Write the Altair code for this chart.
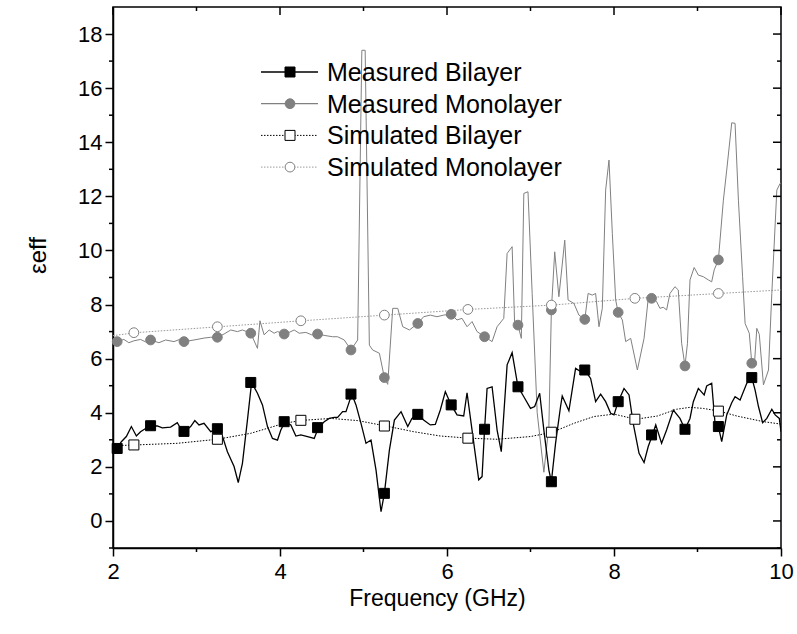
import altair as alt
import pandas as pd

# ---------------- data ----------------
mb_x = [2.00, 2.05, 2.10, 2.16, 2.22, 2.28, 2.33, 2.39, 2.45, 2.53, 2.59, 2.69, 2.77, 2.82, 2.86, 2.93,
        2.98, 3.03, 3.09, 3.17, 3.25, 3.31, 3.37, 3.45, 3.50, 3.55, 3.61, 3.66, 3.73, 3.79, 3.85, 3.91,
        3.97, 4.01, 4.06, 4.13, 4.19, 4.25, 4.33, 4.41, 4.46, 4.53, 4.59, 4.65, 4.69, 4.75, 4.79, 4.86,
        4.91, 4.97, 5.03, 5.09, 5.15, 5.21, 5.25, 5.31, 5.37, 5.45, 5.53, 5.58, 5.65, 5.72, 5.80, 5.86,
        5.92, 5.98, 6.05, 6.12, 6.20, 6.24, 6.30, 6.38, 6.42, 6.45, 6.48, 6.54, 6.60, 6.65, 6.72, 6.78,
        6.85, 6.92, 7.00, 7.05, 7.11, 7.16, 7.22, 7.25, 7.30, 7.36, 7.38, 7.46, 7.54, 7.60, 7.65, 7.72,
        7.78, 7.84, 7.90, 7.96, 8.00, 8.05, 8.12, 8.18, 8.23, 8.30, 8.36, 8.41, 8.46, 8.50, 8.57, 8.63,
        8.71, 8.79, 8.85, 8.91, 8.95, 9.01, 9.08, 9.11, 9.17, 9.21, 9.25, 9.29, 9.35, 9.41, 9.45, 9.51,
        9.59, 9.65, 9.69, 9.73, 9.78, 9.83, 9.89, 9.93, 9.98, 10.00]
mb_y = [2.55, 2.68, 2.93, 3.12, 3.49, 3.14, 3.30, 3.42, 3.52, 3.51, 3.44, 3.47, 3.63, 3.36, 3.31, 3.49,
        3.71, 3.55, 3.61, 3.30, 3.41, 3.14, 2.56, 2.01, 1.42, 2.13, 3.73, 5.12, 4.72, 4.29, 3.49, 3.05,
        2.99, 3.36, 3.67, 3.55, 3.14, 3.18, 3.12, 3.05, 3.45, 3.67, 3.79, 3.83, 3.83, 4.04, 4.04, 4.69,
        4.29, 3.61, 2.87, 2.99, 1.88, 0.34, 1.02, 2.62, 3.73, 4.04, 3.49, 3.79, 3.94, 3.73, 3.55, 3.57,
        4.10, 4.78, 4.29, 3.92, 3.88, 4.74, 3.36, 1.52, 1.64, 3.39, 4.90, 4.96, 3.36, 2.56, 5.77, 6.22,
        4.96, 4.59, 4.16, 4.23, 4.72, 3.36, 1.88, 1.45, 2.87, 4.23, 4.62, 4.07, 5.64, 5.52, 5.58, 5.27,
        4.41, 4.69, 4.41, 3.98, 3.92, 4.41, 4.90, 4.66, 3.61, 2.50, 2.16, 2.75, 3.18, 3.55, 2.87, 3.36,
        4.10, 3.79, 3.39, 3.79, 4.41, 4.90, 4.66, 4.99, 5.09, 3.61, 3.49, 2.93, 3.92, 4.37, 4.59, 4.47,
        5.09, 5.30, 4.84, 4.23, 3.63, 3.79, 4.13, 3.92, 3.79, 3.30]

mm_x = [2.00, 2.05, 2.13, 2.19, 2.25, 2.33, 2.39, 2.45, 2.55, 2.63, 2.73, 2.79, 2.85, 2.97, 3.09, 3.17,
        3.25, 3.33, 3.41, 3.49, 3.55, 3.65, 3.73, 3.76, 3.81, 3.87, 3.93, 3.97, 4.05, 4.11, 4.17, 4.23,
        4.31, 4.38, 4.45, 4.55, 4.63, 4.69, 4.77, 4.85, 4.93, 4.98, 5.02, 5.07, 5.11, 5.19, 5.25, 5.29,
        5.35, 5.41, 5.47, 5.55, 5.65, 5.72, 5.80, 5.88, 5.96, 6.05, 6.12, 6.18, 6.24, 6.30, 6.36, 6.45,
        6.54, 6.60, 6.68, 6.72, 6.78, 6.81, 6.85, 6.89, 6.92, 6.97, 7.02, 7.08, 7.16, 7.22, 7.25, 7.29,
        7.34, 7.41, 7.45, 7.52, 7.58, 7.65, 7.69, 7.74, 7.78, 7.82, 7.86, 7.90, 7.94, 7.98, 8.02, 8.05,
        8.10, 8.14, 8.20, 8.28, 8.36, 8.41, 8.46, 8.51, 8.55, 8.59, 8.63, 8.67, 8.73, 8.77, 8.81, 8.85,
        8.88, 8.91, 8.96, 9.01, 9.07, 9.13, 9.17, 9.20, 9.25, 9.31, 9.35, 9.41, 9.45, 9.49, 9.54, 9.57,
        9.62, 9.65, 9.68, 9.71, 9.74, 9.79, 9.85, 9.89, 9.95, 9.99, 10.00]
mm_y = [6.55, 6.63, 6.71, 6.59, 6.66, 6.71, 6.62, 6.69, 6.59, 6.69, 6.63, 6.70, 6.63, 6.69, 6.76, 6.79,
        6.79, 6.91, 7.06, 7.00, 7.06, 6.94, 6.38, 7.40, 6.88, 7.06, 6.94, 7.00, 6.91, 6.97, 7.06, 6.94,
        6.97, 6.88, 6.91, 6.85, 6.81, 6.81, 6.69, 6.32, 6.69, 17.40, 17.40, 6.50, 6.32, 6.20, 5.30, 5.05,
        7.86, 7.86, 7.18, 7.06, 7.30, 7.55, 7.61, 7.55, 7.61, 7.64, 7.43, 7.49, 7.18, 7.37, 7.00, 6.81,
        6.63, 7.18, 7.49, 9.89, 10.14, 7.30, 7.24, 6.75, 12.11, 12.17, 8.41, 4.00, 1.80, 3.50, 7.80, 9.95,
        8.29, 10.38, 8.17, 8.04, 7.61, 7.45, 8.41, 8.35, 8.41, 7.18, 7.86, 12.23, 13.34, 10.63, 8.17, 7.71,
        7.43, 6.63, 6.75, 5.58, 6.75, 8.23, 8.23, 8.11, 7.86, 7.90, 7.80, 8.41, 8.66, 8.54, 6.57, 5.73,
        6.57, 8.91, 9.37, 9.09, 9.03, 8.91, 8.84, 9.28, 9.65, 11.86, 12.97, 14.72, 14.70, 11.86, 9.03, 7.30,
        6.94, 5.83, 5.70, 7.12, 6.90, 5.03, 5.58, 8.41, 12.23, 12.48, 12.48]

sb_x = [2.00, 2.27, 2.77, 3.25, 3.65, 4.05, 4.27, 4.61, 4.93, 5.27, 5.60, 5.92, 6.26, 6.60, 7.00,
        7.26, 7.52, 7.76, 8.00, 8.26, 8.52, 8.75, 8.91, 9.07, 9.26, 9.47, 9.79, 10.00]
sb_y = [2.78, 2.81, 2.87, 3.02, 3.24, 3.61, 3.72, 3.79, 3.71, 3.51, 3.30, 3.14, 3.06, 3.02, 3.12,
        3.28, 3.61, 3.86, 3.95, 3.76, 3.88, 4.13, 4.20, 4.16, 4.06, 3.88, 3.67, 3.58]

sm_x = [2.00, 2.27, 3.27, 4.26, 5.26, 6.26, 7.26, 8.26, 9.26, 10.00]
sm_y = [6.85, 6.96, 7.18, 7.40, 7.61, 7.82, 7.98, 8.23, 8.41, 8.54]

meas_mk_x = [2.05, 2.45, 2.85, 3.25, 3.65, 4.05, 4.45, 4.85, 5.25, 5.65,
             6.05, 6.45, 6.85, 7.25, 7.65, 8.05, 8.45, 8.85, 9.25, 9.65]
mb_mk_y = [2.68, 3.52, 3.31, 3.41, 5.12, 3.67, 3.45, 4.69, 1.02, 3.94,
           4.29, 3.39, 4.96, 1.45, 5.58, 4.41, 3.18, 3.39, 3.49, 5.30]
mm_mk_y = [6.63, 6.69, 6.63, 6.79, 6.94, 6.91, 6.91, 6.32, 5.30, 7.30,
           7.64, 6.81, 7.24, 7.80, 7.45, 7.71, 8.23, 5.73, 9.65, 5.83]

sim_mk_x = [2.25, 3.25, 4.25, 5.25, 6.25, 7.25, 8.25, 9.25]
sb_mk_y = [2.81, 3.02, 3.72, 3.51, 3.06, 3.28, 3.76, 4.06]
sm_mk_y = [6.96, 7.18, 7.40, 7.61, 7.82, 7.98, 8.23, 8.41]

legend_labels = ["Measured Bilayer", "Measured Monolayer", "Simulated Bilayer", "Simulated Monolayer"]
x_major = [2, 4, 6, 8, 10]
x_minor = [3, 5, 7, 9]
y_major = list(range(0, 19, 2))
y_minor = list(range(-1, 19, 2))
x_title = "Frequency (GHz)"
y_title = "\u03b5eff"

# ---------------- styling ----------------
FONT = "Liberation Sans"
FS_TICK = 22
FS_TITLE = 23
FS_LEG = 25
W, H = 668, 541
GRAY = "#808080"
GRAY2 = "#999999"
MAJ, MIN = 8, 4

xs = alt.Scale(domain=[2, 10], nice=False, zero=False)
ys = alt.Scale(domain=[-1, 19], nice=False, zero=False)

x_axis = alt.Axis(values=x_major, tickSize=MAJ, grid=False,
                  labelFont=FONT, labelFontSize=FS_TICK, labelColor="black", labelPadding=5,
                  labelOverlap=False, labelFlush=False,
                  tickColor="black", tickWidth=1.5, domainColor="black", domainWidth=1.5,
                  title=x_title, titleFont=FONT, titleFontSize=FS_TITLE, titleFontWeight="normal",
                  titleColor="black", titleX=324, titleY=50, titleBaseline="middle")
y_axis = alt.Axis(values=y_major, tickSize=MAJ, grid=False,
                  labelFont=FONT, labelFontSize=FS_TICK, labelColor="black", labelPadding=3,
                  labelOverlap=False, labelFlush=False,
                  tickColor="black", tickWidth=1.5, domainColor="black", domainWidth=1.5,
                  title=y_title, titleFont=FONT, titleFontSize=24, titleFontWeight="normal",
                  titleColor="black", titleX=-75, titleY=248, titleAngle=-90,
                  titleBaseline="middle", titleAlign="center")

X = lambda f: alt.X(f, type="quantitative", scale=xs, axis=x_axis)
Y = lambda f: alt.Y(f, type="quantitative", scale=ys, axis=y_axis)


def series_line(xv, yv, color, width, dash=None):
    df = pd.DataFrame({"x": xv, "y": yv})
    kw = dict(color=color, strokeWidth=width, clip=True)
    if dash:
        kw["strokeDash"] = dash
    return alt.Chart(df).mark_line(**kw).encode(x=X("x"), y=Y("y"))


def series_points(xv, yv, shape, fill, stroke, size):
    df = pd.DataFrame({"x": xv, "y": yv})
    return alt.Chart(df).mark_point(shape=shape, filled=True, fill=fill, stroke=stroke,
                                    strokeWidth=1, size=size, opacity=1).encode(x=X("x"), y=Y("y"))


layers = [
    series_line(sm_x, sm_y, GRAY2, 1, [1.5, 1.5]),
    series_line(sb_x, sb_y, "black", 1, [1.5, 1.5]),
    series_line(mm_x, mm_y, GRAY, 1),
    series_line(mb_x, mb_y, "black", 1.3),
    series_points(meas_mk_x, mm_mk_y, "circle", GRAY, GRAY, 95),
    series_points(meas_mk_x, mb_mk_y, "square", "black", "black", 100),
    series_points(sim_mk_x, sm_mk_y, "circle", "white", GRAY, 95),
    series_points(sim_mk_x, sb_mk_y, "square", "white", "black", 100),
]

# minor outward ticks (bottom, left) and mirrored inward ticks (top, right)
rule = dict(color="black", strokeWidth=1.5)
layers.append(alt.Chart(pd.DataFrame({"v": x_minor})).mark_rule(**rule).encode(
    x=X("v"), y=alt.value(H), y2=alt.value(H + MIN)))
layers.append(alt.Chart(pd.DataFrame({"v": y_minor})).mark_rule(**rule).encode(
    y=Y("v"), x=alt.value(0), x2=alt.value(-MIN)))
for vals, ln in ((x_major, MAJ), (x_minor, MIN)):
    layers.append(alt.Chart(pd.DataFrame({"v": vals})).mark_rule(**rule).encode(
        x=X("v"), y=alt.value(0), y2=alt.value(ln)))
for vals, ln in ((y_major, MAJ), (y_minor, MIN)):
    layers.append(alt.Chart(pd.DataFrame({"v": vals})).mark_rule(**rule).encode(
        y=Y("v"), x=alt.value(W), x2=alt.value(W - ln)))

# legend
leg_styles = [
    dict(color="black", width=1.3, dash=None, shape="square", fill="black", stroke="black", size=100),
    dict(color=GRAY, width=1.3, dash=None, shape="circle", fill=GRAY, stroke=GRAY, size=95),
    dict(color="black", width=1, dash=[1.5, 1.5], shape="square", fill="white", stroke="black", size=100),
    dict(color=GRAY2, width=1, dash=[1.5, 1.5], shape="circle", fill="white", stroke=GRAY, size=95),
]
for i, (lab, st) in enumerate(zip(legend_labels, leg_styles)):
    d = pd.DataFrame({"label": [lab]})
    ypix = 65 + 31.7 * i
    rk = dict(color=st["color"], strokeWidth=st["width"])
    if st["dash"]:
        rk["strokeDash"] = st["dash"]
    layers.append(alt.Chart(d).mark_rule(**rk).encode(
        x=alt.value(148), x2=alt.value(205), y=alt.value(ypix)))
    layers.append(alt.Chart(d).mark_point(shape=st["shape"], filled=True, fill=st["fill"],
                                          stroke=st["stroke"], strokeWidth=1, size=st["size"],
                                          opacity=1).encode(
        x=alt.value(177), y=alt.value(ypix)))
    layers.append(alt.Chart(d).mark_text(align="left", baseline="middle", font=FONT,
                                         fontSize=FS_LEG, color="black").encode(
        x=alt.value(214), y=alt.value(ypix + 1), text="label:N"))

chart = alt.layer(*layers).properties(
    width=W, height=H,
    autosize=alt.AutoSizeParams(type="none"),
    padding={"left": 113, "top": 7, "right": 16, "bottom": 86},
    background="white",
).configure_view(stroke="black", strokeWidth=1.5)

chart.save("out.html", embed_options={"renderer": "svg", "actions": False})
